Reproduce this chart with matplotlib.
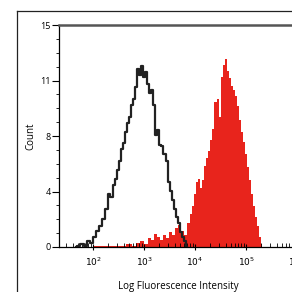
import numpy as np
import matplotlib.pyplot as plt
from matplotlib.lines import Line2D
from matplotlib.ticker import FixedLocator, LogLocator, NullFormatter

# ------------------------------------------------------------
# datos (log10 de la intensidad, cuentas)
# ------------------------------------------------------------
ctrl_log = [1.66, 1.72, 1.78, 1.84, 1.90, 1.96, 2.02, 2.08, 2.14, 2.20,
            2.26, 2.32, 2.36, 2.40, 2.44, 2.48, 2.52, 2.56, 2.60, 2.64,
            2.68, 2.72, 2.76, 2.80, 2.84, 2.88, 2.92, 2.96, 3.00, 3.04,
            3.08, 3.12, 3.16, 3.20, 3.24, 3.28, 3.32, 3.36, 3.40, 3.44,
            3.48, 3.52, 3.56, 3.60, 3.64, 3.68, 3.72, 3.76, 3.80, 3.84]
ctrl_count = [0.0, 0.1, 0.2, 0.1, 0.4, 0.3, 0.7, 1.1, 1.4, 1.9,
              2.6, 3.6, 3.4, 4.2, 4.6, 5.2, 5.8, 6.6, 7.0, 7.8,
              8.4, 8.8, 9.6, 10.0, 10.8, 12.0, 11.6, 12.2, 11.5, 11.8,
              11.0, 10.4, 10.6, 9.6, 7.6, 7.9, 6.9, 6.8, 6.3, 5.8,
              4.4, 3.8, 3.2, 2.6, 2.0, 1.6, 1.0, 0.7, 0.4, 0.0]

stain_log = [2.00, 2.60, 2.70, 2.80, 2.88, 2.96, 3.04, 3.10, 3.16, 3.22,
             3.28, 3.34, 3.40, 3.46, 3.52, 3.58, 3.64, 3.70, 3.76, 3.82,
             3.88, 3.92, 3.96, 4.00, 4.04, 4.08, 4.12, 4.16, 4.20, 4.24,
             4.28, 4.32, 4.36, 4.40, 4.44, 4.48, 4.52, 4.56, 4.60, 4.64,
             4.68, 4.72, 4.76, 4.80, 4.84, 4.88, 4.92, 4.96, 5.00, 5.04,
             5.08, 5.12, 5.16, 5.20, 5.24, 5.28, 5.32]
stain_count = [0.05, 0.1, 0.2, 0.1, 0.3, 0.4, 0.2, 0.6, 0.5, 0.9,
               0.7, 0.5, 0.8, 0.6, 1.0, 0.8, 1.3, 1.5, 1.1, 0.8,
               1.6, 2.2, 2.8, 3.6, 4.4, 4.6, 4.0, 4.5, 5.5, 6.0,
               6.5, 7.2, 8.0, 9.8, 10.0, 8.8, 11.5, 12.3, 12.7, 11.9,
               11.4, 10.9, 10.6, 10.2, 9.5, 8.6, 7.8, 7.1, 6.3, 5.4,
               4.5, 3.6, 2.8, 2.0, 1.4, 0.7, 0.2]

ytick_pos = [0, 3.75, 7.5, 11.25, 15]
ytick_lab = ["0", "4", "8", "11", "15"]
xtick_pos = [1e2, 1e3, 1e4, 1e5, 1e6]
xtick_lab = ["$10^2$", "$10^3$", "$10^4$", "$10^5$", "$10^6$"]

# ------------------------------------------------------------
# figura
# ------------------------------------------------------------
plt.rcParams['font.family'] = ['Open Sans', 'DejaVu Sans']
fig = plt.figure(figsize=(2.92, 2.92), dpi=100)
ax = fig.add_axes([59/292, 1-247/292, 238/292, 222/292])

ax.fill_between(10**np.array(stain_log), stain_count, step='mid',
                color='#e8241c', lw=0)
ax.step(10**np.array(ctrl_log), ctrl_count, where='mid',
        color='#222222', lw=1.6)

ax.set_xscale('log')
ax.set_xlim(10**1.33, 1e6)
ax.set_ylim(0, 15)

ax.xaxis.set_major_locator(FixedLocator(xtick_pos))
ax.set_xticklabels(xtick_lab, fontsize=6.5)
ax.xaxis.set_minor_locator(LogLocator(base=10, subs=np.arange(2, 10)))
ax.xaxis.set_minor_formatter(NullFormatter())
ax.set_yticks(ytick_pos)
ax.set_yticklabels(ytick_lab, fontsize=6.5)
ax.set_yticks(np.arange(0, 15.01, 0.9375), minor=True)

ax.tick_params(axis='x', which='major', direction='inout', length=5, width=0.8, pad=4)
ax.tick_params(axis='x', which='minor', direction='in', length=3, width=0.6)
ax.tick_params(axis='y', which='major', direction='out', length=5, width=0.8, pad=1)
ax.tick_params(axis='y', which='minor', direction='out', length=2.5, width=0.6)

ax.spines['right'].set_visible(False)
ax.spines['top'].set_color('#555555')
ax.spines['top'].set_linewidth(1.8)
ax.spines['left'].set_linewidth(0.9)
ax.spines['bottom'].set_linewidth(0.9)

ax.set_xlabel("Log Fluorescence Intensity", fontsize=7, labelpad=9)
ax.set_ylabel("Count", fontsize=7, labelpad=3)

# marco exterior
fig.add_artist(Line2D([17/292, 17/292], [0, 1-11/292], color='#222222', lw=0.9))
fig.add_artist(Line2D([17/292, 1], [1-11/292, 1-11/292], color='#222222', lw=0.9))

fig.savefig("out.png", dpi=100)
